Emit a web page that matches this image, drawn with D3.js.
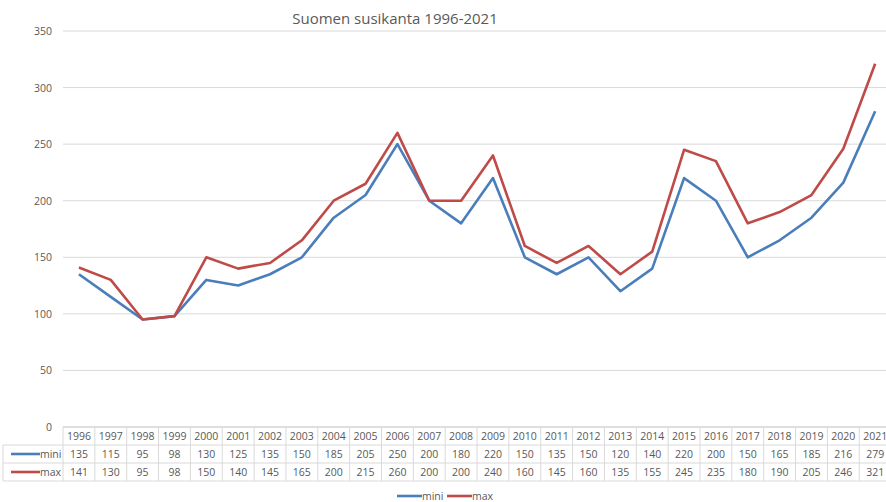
<!DOCTYPE html>
<html>
<head>
<meta charset="utf-8">
<script src="https://cdn.jsdelivr.net/npm/d3@7"></script>
<style>
  body { margin: 0; background: #fff; }
  svg { display: block; font-family: "Open Sans", "Liberation Sans", sans-serif; }
</style>
</head>
<body>
<div id="wrapper"></div>
<script>
const years = [1996, 1997, 1998, 1999, 2000, 2001, 2002, 2003, 2004, 2005, 2006, 2007, 2008,
	2009, 2010, 2011, 2012, 2013, 2014, 2015, 2016, 2017, 2018, 2019, 2020, 2021]
const miniValues = [135, 115, 95, 98, 130, 125, 135, 150, 185, 205, 250, 200, 180,
	220, 150, 135, 150, 120, 140, 220, 200, 150, 165, 185, 216, 279]
const maxValues = [141, 130, 95, 98, 150, 140, 145, 165, 200, 215, 260, 200, 200,
	240, 160, 145, 160, 135, 155, 245, 235, 180, 190, 205, 246, 321]
const yTicks = [0, 50, 100, 150, 200, 250, 300, 350]

const series = [
	{ name: 'mini', values: miniValues, color: '#4a7ebb' },
	{ name: 'max', values: maxValues, color: '#be4b48' },
]

const dimensions = {
	width: 886,
	height: 502,
	margin: { top: 31, left: 63 },
	colWidth: 31.85,
	rowHeight: 18,
}
dimensions.plotBottom = 427
dimensions.plotRight = dimensions.margin.left + years.length * dimensions.colWidth

const textColor = '#595959'
const gridColor = '#d9d9d9'

const svg = d3.select('#wrapper')
	.append('svg')
	.attr('width', dimensions.width)
	.attr('height', dimensions.height)

const xScale = d3.scaleBand()
	.domain(years)
	.range([dimensions.margin.left, dimensions.plotRight])

const yScale = d3.scaleLinear()
	.domain([0, 350])
	.range([dimensions.plotBottom, dimensions.margin.top])

// title
svg.append('text')
	.attr('x', 395)
	.attr('y', 24)
	.attr('text-anchor', 'middle')
	.attr('fill', textColor)
	.style('font-size', '15px')
	.text('Suomen susikanta 1996-2021')

// gridlines + y labels
const yAxis = svg.append('g')
yAxis.selectAll('line')
	.data(yTicks.filter(d => d > 0))
	.enter().append('line')
	.attr('x1', dimensions.margin.left)
	.attr('x2', dimensions.width)
	.attr('y1', d => yScale(d))
	.attr('y2', d => yScale(d))
	.attr('stroke', gridColor)
	.attr('stroke-width', 1)

yAxis.selectAll('text')
	.data(yTicks)
	.enter().append('text')
	.attr('x', 52)
	.attr('y', d => yScale(d) + 4)
	.attr('text-anchor', 'end')
	.attr('fill', textColor)
	.style('font-size', '10.5px')
	.text(d => d)

// lines
const lineGen = d3.line()
	.x((d, i) => xScale(years[i]) + xScale.bandwidth() / 2)
	.y(d => yScale(d))

svg.append('g')
	.selectAll('path')
	.data(series)
	.enter().append('path')
	.attr('d', d => lineGen(d.values))
	.attr('fill', 'none')
	.attr('stroke', d => d.color)
	.attr('stroke-width', 2.6)
	.attr('stroke-linejoin', 'round')

// data table
const table = svg.append('g')
const tableTop = dimensions.plotBottom
const rh = dimensions.rowHeight
const tableLeft = 3

// horizontal borders
const hLines = [
	{ x1: dimensions.margin.left, y: tableTop },
	{ x1: tableLeft, y: tableTop + rh },
	{ x1: tableLeft, y: tableTop + rh * 2 },
	{ x1: tableLeft, y: tableTop + rh * 3 },
]
table.selectAll('line.h')
	.data(hLines)
	.enter().append('line')
	.attr('class', 'h')
	.attr('x1', d => d.x1)
	.attr('x2', dimensions.plotRight)
	.attr('y1', d => d.y)
	.attr('y2', d => d.y)
	.attr('stroke', d => d.y === tableTop ? '#bfbfbf' : gridColor)

// vertical borders
const vEdges = years.map(y => xScale(y)).concat([dimensions.plotRight])
table.selectAll('line.v')
	.data(vEdges)
	.enter().append('line')
	.attr('class', 'v')
	.attr('x1', d => d)
	.attr('x2', d => d)
	.attr('y1', tableTop)
	.attr('y2', tableTop + rh * 3)
	.attr('stroke', gridColor)
table.append('line')
	.attr('x1', tableLeft)
	.attr('x2', tableLeft)
	.attr('y1', tableTop + rh)
	.attr('y2', tableTop + rh * 3)
	.attr('stroke', gridColor)

// header years
table.selectAll('text.year')
	.data(years)
	.enter().append('text')
	.attr('class', 'year')
	.attr('x', d => xScale(d) + xScale.bandwidth() / 2)
	.attr('y', tableTop + rh / 2 + 4)
	.attr('text-anchor', 'middle')
	.attr('fill', textColor)
	.style('font-size', '10.5px')
	.text(d => d)

// rows
const rows = table.selectAll('g.row')
	.data(series)
	.enter().append('g')
	.attr('class', 'row')
	.attr('transform', (d, i) => `translate(0, ${tableTop + rh * (i + 1)})`)

rows.append('line')
	.attr('x1', 11)
	.attr('x2', 40)
	.attr('y1', rh / 2)
	.attr('y2', rh / 2)
	.attr('stroke', d => d.color)
	.attr('stroke-width', 2.6)

rows.append('text')
	.attr('x', 40)
	.attr('y', rh / 2 + 4)
	.attr('fill', textColor)
	.style('font-size', '10.5px')
	.text(d => d.name)

rows.selectAll('text.val')
	.data(d => d.values)
	.enter().append('text')
	.attr('class', 'val')
	.attr('x', (d, i) => xScale(years[i]) + xScale.bandwidth() / 2)
	.attr('y', rh / 2 + 4)
	.attr('text-anchor', 'middle')
	.attr('fill', textColor)
	.style('font-size', '10.5px')
	.text(d => d)

// legend
const legend = svg.append('g')
	.attr('transform', 'translate(397, 496)')
const legendItems = legend.selectAll('g')
	.data(series)
	.enter().append('g')
	.attr('transform', (d, i) => `translate(${i * 50}, 0)`)
legendItems.append('line')
	.attr('x1', 0)
	.attr('x2', 25)
	.attr('stroke', d => d.color)
	.attr('stroke-width', 2.6)
legendItems.append('text')
	.attr('x', 25)
	.attr('y', 4)
	.attr('fill', textColor)
	.style('font-size', '10.5px')
	.text(d => d.name)
</script>
</body>
</html>
